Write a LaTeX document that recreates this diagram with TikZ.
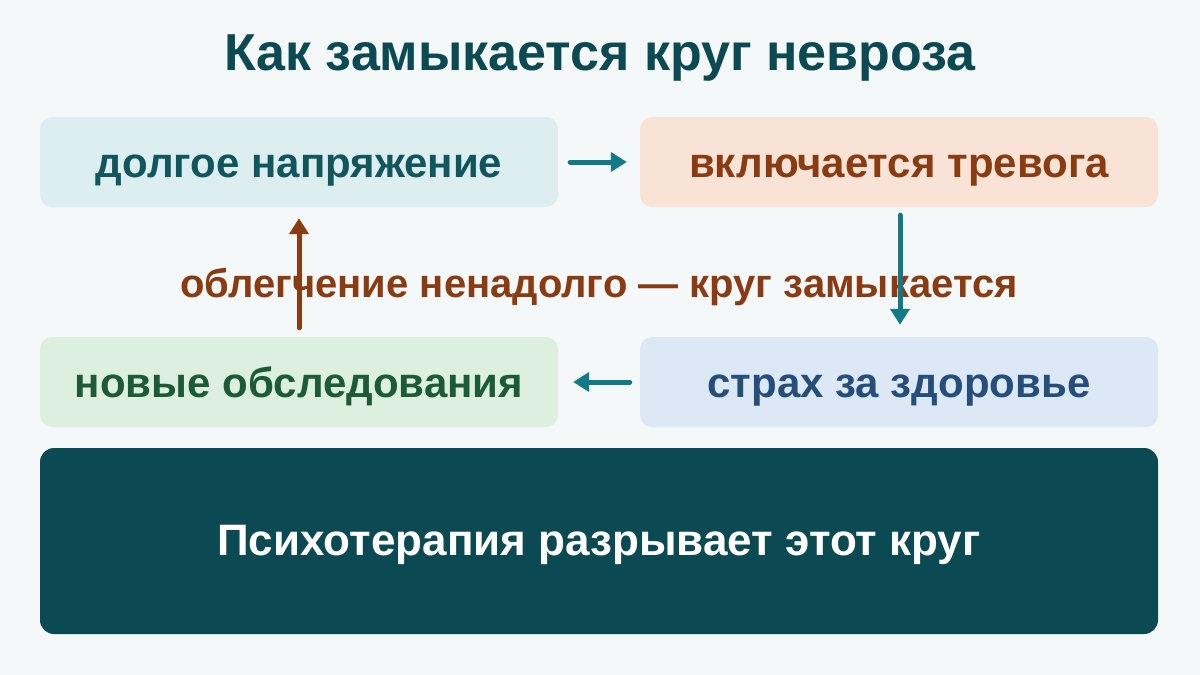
\documentclass[tikz,border=0pt]{standalone}
\usepackage{fontspec}
\setmainfont{Liberation Sans}
\usetikzlibrary{arrows.meta}
\definecolor{bg}{HTML}{F4F8F9}
\definecolor{titlec}{HTML}{0B4A52}
\definecolor{fillA}{HTML}{DDEEF1}
\definecolor{textA}{HTML}{11555D}
\definecolor{fillB}{HTML}{F9E3D6}
\definecolor{textB}{HTML}{8A3B12}
\definecolor{fillC}{HTML}{DDF0E0}
\definecolor{textC}{HTML}{1D5A39}
\definecolor{fillD}{HTML}{DCE8F5}
\definecolor{textD}{HTML}{254E7A}
\definecolor{arrT}{HTML}{127A86}
\definecolor{bigc}{HTML}{0B4A52}
\tikzset{
  box/.style={rounded corners=12pt, minimum width=518pt, minimum height=90pt, inner sep=0pt,
    text height=30pt, text depth=0pt, font=\fontsize{42}{46}\selectfont\bfseries},
  arr/.style={line width=5pt, line cap=round, -{Triangle[length=16pt,width=19pt]}},
}
\begin{document}
\begin{tikzpicture}[x=1pt,y=-1pt]
\useasboundingbox (0,0) rectangle (1200,675);
\fill[bg] (0,0) rectangle (1200,675);
\node[anchor=base, text=titlec, font=\fontsize{52}{56}\selectfont\bfseries] (title) at (600,70) {Как замыкается круг невроза};
\node[box, fill=fillA, text=textA] (b1) at (299,162) {долгое напряжение};
\node[box, fill=fillB, text=textB] (b2) at (899,162) {включается тревога};
\node[box, fill=fillC, text=textC] (b3) at (299,382) {новые обследования};
\node[box, fill=fillD, text=textD] (b4) at (899,382) {страх за здоровье};
\node[rounded corners=14pt, fill=bigc, text=white, minimum width=1118pt, minimum height=186pt, inner sep=0pt,
  text height=28pt, text depth=0pt, font=\fontsize{44}{48}\selectfont\bfseries] (big) at (599,541) {Психотерапия разрывает этот круг};
\node[anchor=base, text=textB, font=\fontsize{40}{44}\selectfont\bfseries] (mid) at (599,297) {облегчение ненадолго — круг замыкается};
\draw[arr, arrT, shorten <=12pt, shorten >=13pt] (b1.east) -- (b2.west);
\draw[arr, arrT, shorten <=8pt, shorten >=12pt] ([xshift=1pt]b2.south) -- ([xshift=1pt]b4.north);
\draw[arr, arrT, shorten <=10pt, shorten >=15pt] (b4.west) -- (b3.east);
\draw[arr, textB, shorten <=9pt, shorten >=11pt] (b3.north) -- (b1.south);
\end{tikzpicture}
\end{document}
